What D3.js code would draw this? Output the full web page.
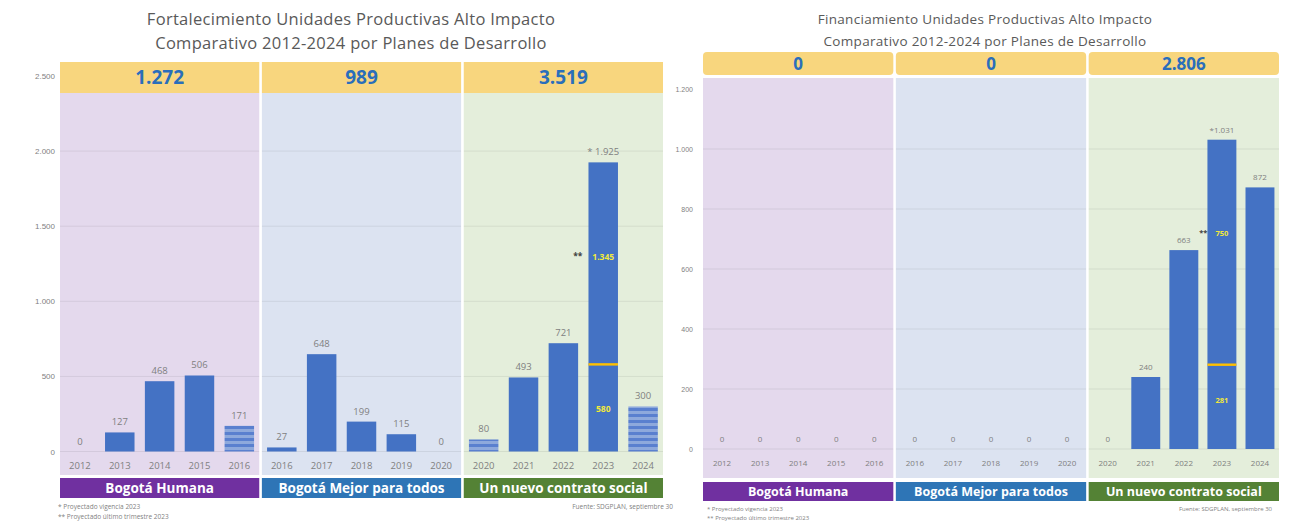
<!DOCTYPE html>
<html><head><meta charset="utf-8">
<script src="https://cdn.jsdelivr.net/npm/d3@7"></script>
<style>body{margin:0;background:#fff;}svg{display:block;font-family:"Open Sans","Noto Sans",sans-serif;}</style>
</head><body><svg id="c" width="1290" height="524"></svg>
<script>
// ---------- DATA ----------
const plans = ["Bogotá Humana", "Bogotá Mejor para todos", "Un nuevo contrato social"];
const planYears = [
  ["2012","2013","2014","2015","2016"],
  ["2016","2017","2018","2019","2020"],
  ["2020","2021","2022","2023","2024"]
];
// Fortalecimiento (left chart)
const fortValues = [0,127,468,506,171, 27,648,199,115,0, 80,493,721,1925,300];
const fortTotals = ["1.272","989","3.519"];
const fortStriped = [4,10,14];
const fortSplitIndex = 13, fortSplitBase = 580, fortSplitProjected = 1345;
const fortTicks = [0,500,1000,1500,2000,2500];
// Financiamiento (right chart)
const finValues = [0,0,0,0,0, 0,0,0,0,0, 0,240,663,1031,872];
const finTotals = ["0","0","2.806"];
const finStriped = [];
const finSplitIndex = 13, finSplitBase = 281, finSplitProjected = 750;
const finTicks = [0,200,400,600,800,1000,1200];

const titlesLeft = ["Fortalecimiento Unidades Productivas Alto Impacto","Comparativo 2012-2024 por Planes de Desarrollo"];
const titlesRight = ["Financiamiento Unidades Productivas Alto Impacto","Comparativo 2012-2024 por Planes de Desarrollo"];
const footnotes = ["Proyectado vigencia 2023","Proyectado último trimestre 2023"];
const sourceText = "Fuente: SDGPLAN, septiembre 30";

// ---------- STYLE ----------
const panelColors = ["#e4d9ed","#dce3f1","#e4eedb"];
const planColors = ["#7030a0","#2e75b6","#548235"];
const barColor = "#4472c4";
const locale = d3.formatLocale({decimal:",", thousands:".", grouping:[3], currency:["$",""]});
const fmt = locale.format(",d");

const svg = d3.select("#c");
const defs = svg.append("defs");
const pat = defs.append("pattern").attr("id","stripes").attr("patternUnits","userSpaceOnUse")
  .attr("width",10).attr("height",6);
pat.append("rect").attr("width",10).attr("height",6).attr("fill","#8ea9dc");
pat.append("rect").attr("width",10).attr("height",3).attr("fill","#5a80cf");

function drawChart(o) {
  const g = svg.append("g");
  // titles
  o.titles.forEach((t,i)=>{
    g.append("text").attr("x",o.titleX).attr("y",o.titleY[i]).attr("text-anchor","middle")
      .attr("font-size",o.titleSize).attr("letter-spacing",o.titleLS).attr("fill","#595959").text(t);
  });
  const y = d3.scaleLinear().domain([0,o.ticks[o.ticks.length-1]]).range([o.y0,o.yTop]);
  const px = d3.scaleBand().domain(d3.range(3)).range([o.x0,o.x1]).paddingInner(0.013);
  // panels
  plans.forEach((p,i)=>{
    g.append("rect").attr("x",px(i)).attr("y",o.panelTop).attr("width",px.bandwidth())
      .attr("height",o.panelBottom-o.panelTop).attr("fill",panelColors[i]);
    g.append("rect").attr("x",px(i)).attr("y",o.bandTop).attr("width",px.bandwidth())
      .attr("height",o.bandBottom-o.bandTop).attr("fill","#f8d67e").attr("rx",o.bandR);
    g.append("text").attr("x",px(i)+px.bandwidth()/2).attr("y",(o.bandTop+o.bandBottom)/2)
      .attr("dy","0.36em").attr("text-anchor","middle").attr("font-weight","bold")
      .attr("font-size",o.totalSize).attr("fill","#2a6ebb").text(o.totals[i]);
    g.append("rect").attr("x",px(i)).attr("y",o.labTop).attr("width",px.bandwidth())
      .attr("height",o.labBottom-o.labTop).attr("fill",planColors[i]);
    g.append("text").attr("x",px(i)+px.bandwidth()/2).attr("y",(o.labTop+o.labBottom)/2)
      .attr("dy","0.36em").attr("text-anchor","middle").attr("font-weight","bold")
      .attr("font-size",o.planSize).attr("fill","#fff").text(p);
  });
  // gridlines
  plans.forEach((p,i)=>{
    g.selectAll(null).data(o.ticks.slice(1,-1).concat([0])).enter().append("line")
      .attr("x1",px(i)).attr("x2",px(i)+px.bandwidth())
      .attr("y1",d=>y(d)).attr("y2",d=>y(d)).attr("stroke","#000").attr("stroke-opacity",0.07);
  });
  // y axis
  const ax = g.append("g").attr("transform",`translate(${o.axisX},0)`)
    .call(d3.axisLeft(y).tickValues(o.ticks).tickFormat(fmt).tickSize(0).tickPadding(0));
  ax.select(".domain").remove();
  ax.selectAll("text").attr("font-size",o.axisSize).attr("fill","#7f7f7f").attr("font-family","inherit");
  // bars
  const items = [];
  planYears.forEach((ys,i)=>ys.forEach((yr,j)=>items.push({plan:i,year:yr,key:i+"-"+yr,v:o.values[i*5+j],idx:i*5+j})));
  const xi = d3.scaleBand().domain(d3.range(5)).range([0,px.bandwidth()]).paddingInner(o.barPad).paddingOuter(o.barPad/2);
  const cx = d=>px(d.plan)+xi(d.idx%5);
  g.selectAll(".bar").data(items.filter(d=>d.v>0)).enter().append("rect")
    .attr("x",cx).attr("width",xi.bandwidth()).attr("y",d=>y(d.v)).attr("height",d=>y(0)-y(d.v))
    .attr("fill",d=>o.striped.includes(d.idx)?"url(#stripes)":barColor);
  // x tick labels
  g.selectAll(".xl").data(items).enter().append("text")
    .attr("x",d=>cx(d)+xi.bandwidth()/2).attr("y",o.xLabY).attr("text-anchor","middle")
    .attr("font-size",o.xSize).attr("fill","#7f7f7f").text(d=>d.year);
  // value labels
  g.selectAll(".vl").data(items.filter(d=>d.idx!==o.splitIndex)).enter().append("text")
    .attr("x",d=>cx(d)+xi.bandwidth()/2).attr("y",d=>y(d.v)-o.valOff).attr("text-anchor","middle")
    .attr("font-size",o.valSize).attr("fill","#7f7f7f").text(d=>fmt(d.v));
  // split bar annotations
  const sd = items[o.splitIndex];
  const sx = cx(sd), sw = xi.bandwidth();
  g.append("rect").attr("x",sx).attr("width",sw).attr("y",y(o.splitBase)-1.2).attr("height",2.4).attr("fill","#ffc000");
  g.append("text").attr("x",sx+sw/2).attr("y",y(sd.v)-o.valOff).attr("text-anchor","middle")
    .attr("font-size",o.valSize).attr("fill","#7f7f7f").text(o.starLabel+fmt(sd.v));
  g.append("text").attr("x",sx+sw/2).attr("y",(y(o.splitBase)+y(0))/2+o.baseLabOff).attr("text-anchor","middle")
    .attr("font-size",o.splitSize).attr("font-weight","bold").attr("fill","#f2e93a").text(fmt(o.splitBase));
  const py = y(o.splitBase+o.splitProjected*o.projPos);
  g.append("text").attr("x",sx+sw/2).attr("y",py).attr("dy","0.35em").attr("text-anchor","middle")
    .attr("font-size",o.splitSize).attr("font-weight","bold").attr("fill","#f2e93a").text(fmt(o.splitProjected));
  g.append("text").attr("x",sx+o.starDx).attr("y",py-1).attr("dy","0.35em").attr("text-anchor","end")
    .attr("font-size",o.splitSize).attr("font-weight","bold").attr("fill","#404040").text("**");
  // footnotes
  g.append("text").attr("x",o.fnX).attr("y",o.fnY[0]).attr("font-size",o.fnSize).attr("fill","#7f7f7f").text(o.fnStar1+footnotes[0]);
  g.append("text").attr("x",o.fnX).attr("y",o.fnY[1]).attr("font-size",o.fnSize).attr("fill","#7f7f7f").text(o.fnStar2+footnotes[1]);
  g.append("text").attr("x",o.srcX).attr("y",o.fnY[0]).attr("text-anchor","end").attr("font-size",o.fnSize).attr("fill","#7f7f7f").text(sourceText);
}

drawChart({
  titles: titlesLeft, titleX: 351, titleY:[25,49], titleSize: 16.5, titleLS: 0.3,
  ticks: fortTicks, values: fortValues, totals: fortTotals, striped: fortStriped,
  splitIndex: fortSplitIndex, splitBase: fortSplitBase, splitProjected: fortSplitProjected, projPos: 0.53,
  starLabel: "* ", baseLabOff: 4, starDx: -6,
  y0: 451.5, yTop: 76, x0: 60, x1: 663, axisX: 55,
  panelTop: 93, panelBottom: 475, bandTop: 62, bandBottom: 93, bandR: 0,
  labTop: 478, labBottom: 498, totalSize: 19, planSize: 13.5, axisSize: 8,
  barPad: 0.26, xLabY: 469, xSize: 9.5, valOff: 7, valSize: 9.5, splitSize: 8.5,
  fnX: 58, fnY:[509,519], fnSize: 6.5, fnStar1: "*     ", fnStar2: "**   ", srcX: 673
});
drawChart({
  titles: titlesRight, titleX: 985, titleY:[24,46], titleSize: 13.5, titleLS: 0.3,
  ticks: finTicks, values: finValues, totals: finTotals, striped: finStriped,
  splitIndex: finSplitIndex, splitBase: finSplitBase, splitProjected: finSplitProjected, projPos: 0.585,
  starLabel: "*", baseLabOff: -4, starDx: 0,
  y0: 449, yTop: 89, x0: 703, x1: 1279, axisX: 693,
  panelTop: 78, panelBottom: 478, bandTop: 52, bandBottom: 75, bandR: 4,
  labTop: 482, labBottom: 501, totalSize: 17, planSize: 12.5, axisSize: 7,
  barPad: 0.24, xLabY: 466, xSize: 8, valOff: 7, valSize: 8, splitSize: 7.5,
  fnX: 707, fnY:[511,520], fnSize: 6, fnStar1: "* ", fnStar2: "**     ", srcX: 1272
});
</script></body></html>
